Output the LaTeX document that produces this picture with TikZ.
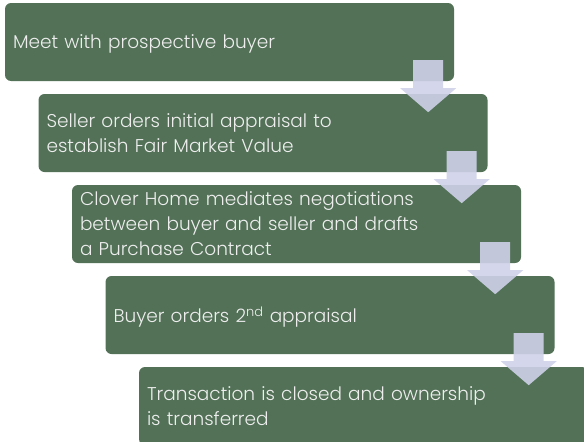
\documentclass[tikz,border=0pt]{standalone}
\usepackage{fontspec}
\setmainfont{Poppins}[UprightFont={* Light}]
\usepackage{xcolor}
\usepackage{tikz}
\usetikzlibrary{positioning,calc}

\definecolor{boxgreen}{RGB}{82,113,87}
\definecolor{arrowlav}{RGB}{207,210,233}
\definecolor{boxtext}{RGB}{238,238,238}

\tikzset{
	stepbox/.style={rectangle, rounded corners=6pt, fill=boxgreen, text=boxtext, minimum width=449pt, minimum height=78pt, text width=433pt, inner xsep=8pt, align=left, font=\fontsize{18.5}{25}\selectfont},
	onelinebox/.style={stepbox, text depth=0pt},
	downarrow/.style={fill=arrowlav, fill opacity=0.9}
}

\begin{document}
\begin{tikzpicture}[x=1pt, y=1pt]
		\useasboundingbox (0,0) rectangle (584,-442);
		
		\node [onelinebox] (b1) at (229.5,-42) {Meet with prospective buyer};
		\node [stepbox, shift={(33.5,-91)}] (b2) at (b1.center) {Seller orders initial appraisal to\\establish Fair Market Value};
		\node [stepbox, shift={(33.5,-91)}] (b3) at (b2.center) {Clover Home mediates negotiations\\between buyer and seller and drafts\\a Purchase Contract};
		\node [onelinebox, shift={(33.5,-91)}] (b4) at (b3.center) {Buyer orders 2\textsuperscript{nd} appraisal};
		\node [stepbox, shift={(33.5,-91)}] (b5) at (b4.center) {Transaction is closed and ownership\\is transferred};
		
		\foreach \b in {b1,b2,b3,b4}
			\fill[downarrow] ($(\b.south east)+(-41,21)$) -- ($(\b.south east)+(-11,21)$) -- ($(\b.south east)+(-11,-7)$) -- ($(\b.south east)+(2,-7)$) -- ($(\b.south east)+(-26,-31)$) -- ($(\b.south east)+(-54,-7)$) -- ($(\b.south east)+(-41,-7)$) -- cycle;
	\end{tikzpicture}
\end{document}
